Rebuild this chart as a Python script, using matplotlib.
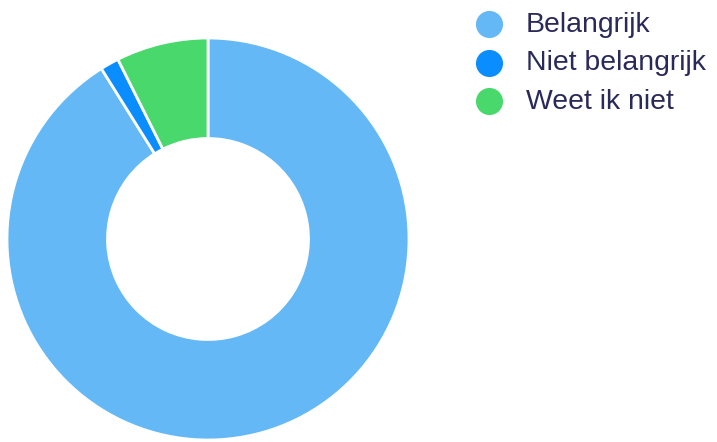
import matplotlib.pyplot as plt
from matplotlib.lines import Line2D

# answers and shares (percent)
labels = ['Belangrijk', 'Niet belangrijk', 'Weet ik niet']
values = [91.1, 1.5, 7.4]
colors = ['#63B8F5', '#0A8EFF', '#49D86C']

plt.rcParams['font.family'] = ['Liberation Sans', 'DejaVu Sans']

fig = plt.figure(figsize=(7.17, 4.42), dpi=100)

# donut
ax = fig.add_axes([7/717, 2/442, 402/717, 402/442])
ax.pie(values, colors=colors, startangle=90, counterclock=False,
       wedgeprops=dict(width=0.5, edgecolor='white', linewidth=2))
ax.set_xlim(-1, 1)
ax.set_ylim(-1, 1)
ax.set_aspect('equal')
ax.axis('off')

# legend drawn by hand
lax = fig.add_axes([0, 0, 1, 1])
lax.set_xlim(0, 717)
lax.set_ylim(442, 0)
lax.axis('off')
for i, (lab, col) in enumerate(zip(labels, colors)):
    y = 24 + i * 38.5
    lax.add_line(Line2D([489], [y], marker='o', markersize=19.5,
                        color=col, markeredgewidth=0))
    lax.text(526, y + 1, lab, fontsize=20.4, color='#2A2A5A',
             va='center', ha='left')

fig.savefig('out.png', dpi=100)
